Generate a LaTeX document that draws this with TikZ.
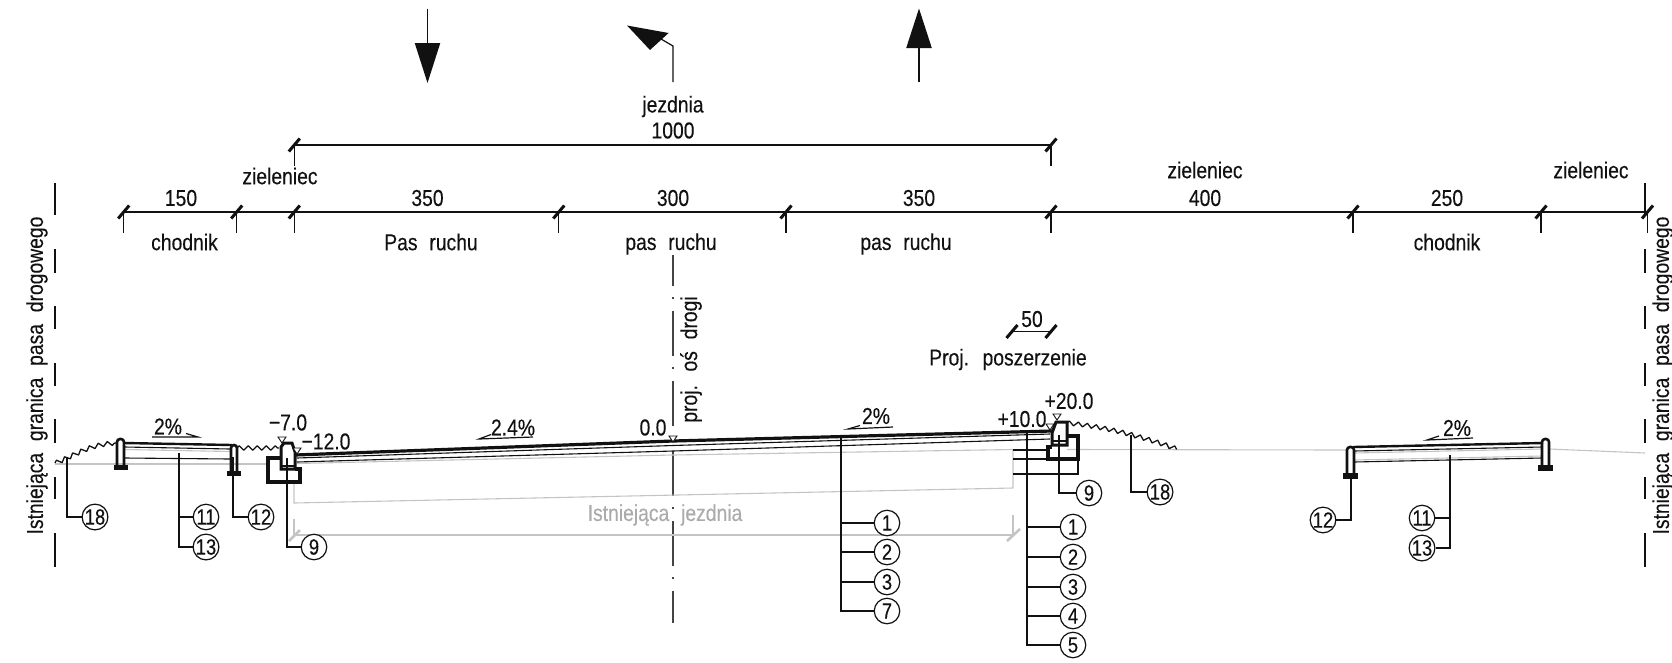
\documentclass[tikz,border=0pt]{standalone}
\usepackage{fontspec}
\setmainfont[FakeStretch=0.84,WordSpace=2.2,FakeBold=0.25]{Liberation Sans}
\usetikzlibrary{decorations.pathmorphing}
\definecolor{ink}{HTML}{111111}
\definecolor{axis}{HTML}{444444}
\definecolor{pale}{HTML}{C4C4C4}
\definecolor{paletext}{HTML}{ABABAB}
\tikzset{
 lbl/.style={font=\fontsize{23}{23}\selectfont,text=ink,inner sep=0pt},
 num/.style={draw=ink,line width=1.2pt,circle,minimum size=25.5pt,inner sep=0pt,font=\fontsize{22}{22}\selectfont,text=ink,fill=white},
 lead/.style={draw=ink,line width=1.2pt},
 dimline/.style={draw=ink,line width=1.2pt},
 slashmark/.style={draw=ink,line width=3pt},
 thinlayer/.style={draw=ink,line width=1.1pt},
 thickline/.style={draw=ink,line width=3.2pt},
 midline/.style={draw=ink,line width=1.5pt},
 paleline/.style={draw=pale,line width=1.1pt},
 tri/.style={draw=ink,line width=.9pt,fill=white},
 grass/.style={draw=ink,line width=1.3pt,decorate,decoration={zigzag,segment length=9pt,amplitude=2.2pt},line join=round},
 curb/.style={draw=ink,line width=2.6pt,rounded corners=3pt},
 footing/.style={draw=ink,line width=3.2pt},
}
\begin{document}
\begin{tikzpicture}[x=1pt,y=-1pt]
\useasboundingbox (0,0) rectangle (1672,662);

% direction arrows
\coordinate (a1t) at (427.5,8.5); \coordinate (a1h) at (427.5,43);
\draw[lead] (a1t) -- (a1h);
\fill[ink] (414.7,43) -- (440.3,43) -- (427.5,83) -- cycle;
\coordinate (a2b) at (673,82); \coordinate (a2c) at (673,46); \coordinate (a2h) at (661,39);
\draw[lead] (a2b) -- (a2c) -- (a2h);
\fill[ink] (627,25.5) -- (668.6,33) -- (650,50) -- cycle;
\coordinate (a3b) at (919,82); \coordinate (a3h) at (919,48);
\draw[lead] (a3b) -- (a3h);
\fill[ink] (906.2,48) -- (931.8,48) -- (919,8.5) -- cycle;

% dimension lines
\node[lbl] (tjez) at (673,106.5) {jezdnia};
\node[lbl] (t1000) at (673,130.5) {1000};
\coordinate (u1) at (294.3,145); \coordinate (u2) at (1051,145);
\draw[dimline] (u1) -- (u2);
\foreach \n in {u1,u2}{
  \draw[slashmark] ([shift={(-5.5,6.5)}]\n) -- ([shift={(5.5,-6.5)}]\n);
  \draw[lead] (\n) -- ++(0,21);
}
\coordinate (d0) at (123.7,212); \coordinate (d1) at (236.7,212);
\coordinate (d2) at (294.3,212); \coordinate (d3) at (558.8,212);
\coordinate (d4) at (786,212);   \coordinate (d5) at (1051,212);
\coordinate (d6) at (1353,212);  \coordinate (d7) at (1541,212);
\coordinate (d8) at (1647.5,212);
\draw[dimline] (d0) -- (d8);
\foreach \n in {d0,d1,d2,d3,d4,d5,d6,d7,d8}{
  \draw[slashmark] ([shift={(-5.5,6.5)}]\n) -- ([shift={(5.5,-6.5)}]\n);
  \draw[lead] (\n) -- ++(0,21);
}
\coordinate (w1) at (1012,331.5); \coordinate (w2) at (1051,331.5);
\draw[dimline] (w1) -- (w2);
\foreach \n in {w1,w2}{
  \draw[slashmark] ([shift={(-5.5,6.5)}]\n) -- ([shift={(5.5,-6.5)}]\n);
}

% dimension labels
\node[lbl] (t150) at (181,198) {150};
\node[lbl] (t350a) at (427.5,198) {350};
\node[lbl] (t300) at (673,198) {300};
\node[lbl] (t350b) at (919,198) {350};
\node[lbl] (t400) at (1205,198) {400};
\node[lbl] (t250) at (1447,198) {250};
\node[lbl] (z1) at (280,176) {zieleniec};
\node[lbl] (z2) at (1205,170) {zieleniec};
\node[lbl] (z3) at (1591,170) {zieleniec};
\node[lbl] (c1) at (184.5,242) {chodnik};
\node[lbl] (p1) at (431,242) {Pas ruchu};
\node[lbl] (p2) at (671,244) {pas ruchu};
\node[lbl] (p3) at (906,244) {pas ruchu};
\node[lbl] (c2) at (1447,242) {chodnik};
\node[lbl] (t50) at (1032,319) {50};
\node[lbl] (tpp) at (1008,359.5) {Proj. poszerzenie};

% boundary lines and their labels
\foreach \x in {55,1645}{
 \foreach \a/\b in {183/215,249/273,306/329,363/386,419/443,477/499,533/567}{
  \draw[lead] (\x,\a) -- (\x,\b);
 }
}
\node[lbl,rotate=90] (bl) at (37,375.5) {Istniejąca granica pasa drogowego};
\node[lbl,rotate=90] (br) at (1663,375.5) {Istniejąca granica pasa drogowego};

% centre line
\coordinate (cT) at (673,255); \coordinate (cB) at (673,623);
\draw[draw=axis,line width=1.1pt,dash pattern=on 45pt off 11pt on 1.5pt off 12.5pt,dash phase=14pt] (cT) -- (cB);
\node[lbl,rotate=90] (osd) at (691,359.5) {proj. oś drogi};

% existing roadway (pale)
\draw[paleline] (55,464) -- (270,464);
\draw[paleline] (1067,449.5) -- (1347,450);
\draw[paleline] (1549,449) -- (1645,453);
\draw[paleline] (297,463.5) -- (673,455) -- (1013,449.5);
\draw[paleline] (294,480) -- (294,503) -- (1013,488) -- (1013,450);
\draw[paleline] (294,519) -- (294,535) -- (1013,535) -- (1013,515);
\draw[draw=pale,line width=2.6pt] (289,541) -- (300,530);
\draw[draw=pale,line width=2.6pt] (1007,541) -- (1020,529);
\node[font=\fontsize{23}{23}\selectfont,text=paletext,inner sep=0pt] (ej) at (665,515) {Istniejąca jezdnia};

% roadway layers
\draw[thinlayer] (297,458) -- (673,445.5) -- (1050,434);
\draw[thinlayer] (297,462) -- (673,451) -- (1050,439);
\draw[thickline] (295,455) -- (673,441) -- (1052,431);

% lines at the widening
\draw[thinlayer] (1013,450) -- (1048,450);
\draw[thinlayer] (1013,459) -- (1048,459);
\draw[thinlayer] (1013,474) -- (1078,474) -- (1078,459);

% left kerb
\draw[footing] (281,458) -- (268,458) -- (268,482) -- (300,482) -- (300,469) -- (295,469);
\draw[draw=ink,line width=3pt] (281,469) -- (281,447) -- (284,443) -- (292,443) -- (295,452) -- (295,469) -- cycle;
\draw[midline] (281,466) -- (295,466);
% right kerb
\draw[footing] (1067,436) -- (1078,436) -- (1078,459) -- (1048,459) -- (1048,447) -- (1052,447);
\draw[draw=ink,line width=3pt] (1052,445) -- (1052,433) -- (1056,422) -- (1067,422) -- (1067,445) -- cycle;
\draw[midline] (1052,441) -- (1067,441);

% elevation marks
\draw[tri] (278,437) -- (286,437) -- (282,443) -- cycle;
\draw[tri] (293,448) -- (301,448) -- (297,454) -- cycle;
\draw[tri] (669,436) -- (677,436) -- (673,442) -- cycle;
\draw[tri] (1053,414) -- (1061,414) -- (1057,420) -- cycle;
\draw[tri] (1046,424) -- (1054,424) -- (1050,430) -- cycle;
\node[lbl] (e1) at (288,422.5) {−7.0};
\node[lbl] (e2) at (326,441.5) {−12.0};
\node[lbl] (e3) at (653,427.5) {0.0};
\node[lbl] (e4) at (1069,401) {+20.0};
\node[lbl] (e5) at (1022,419) {+10.0};

% left sidewalk
\draw[thinlayer] (125,458) -- (230,459);
\draw[draw=ink,line width=1.1pt] (125,447) -- (230,449);
\draw[draw=pale,line width=1.1pt] (125,449.5) -- (230,451.5);
\draw[draw=ink,line width=2.4pt] (124,443) -- (232,445);
\draw[curb] (117,465) -- (117,439) -- (124,439) -- (124,465);
\fill[ink] (114,465) rectangle (128,470);
\draw[curb] (231,471) -- (231,445) -- (237,445) -- (237,471);
\fill[ink] (227,471) rectangle (241,476);
% right sidewalk
\draw[draw=ink,line width=1.1pt] (1354,462) -- (1542,458);
\draw[draw=pale,line width=1.1pt] (1354,460) -- (1542,456);
\draw[draw=ink,line width=1.1pt] (1354,451) -- (1542,447);
\draw[draw=pale,line width=1.1pt] (1354,453) -- (1542,449);
\draw[draw=ink,line width=2.4pt] (1353,447) -- (1543,443);
\draw[curb] (1347,473) -- (1347,447) -- (1354,447) -- (1354,473);
\fill[ink] (1343,473) rectangle (1358,479);
\draw[curb] (1542,465) -- (1542,439) -- (1549,439) -- (1549,465);
\fill[ink] (1538,465) rectangle (1553,471);

% slope marks
\node[lbl] (s1) at (168,426.5) {2\%};
\draw[lead] (152,437) -- (198,437) -- (186,433.5);
\node[lbl] (s2) at (513,427.5) {2.4\%};
\draw[lead] (533,437) -- (479,439) -- (491,434.5);
\node[lbl] (s3) at (876,416) {2\%};
\draw[lead] (893,427) -- (848,429) -- (860,425.5);
\node[lbl] (s4) at (1457,428) {2\%};
\draw[lead] (1473,438) -- (1427,440) -- (1439,436);

% grass
\draw[grass] (55,463) .. controls (75,456) and (88,444) .. (117,443);
\draw[grass] (237,448) -- (279,448);
\draw[grass] (1067,423) .. controls (1100,426) and (1135,434) .. (1177,449);

% callouts
\node[num] (n18a) at (95,517) {18};
\node[num] (n11a) at (206,517) {11};
\node[num] (n13a) at (206,547) {13};
\node[num] (n12a) at (261,517) {12};
\node[num] (n9a) at (314,547) {9};
\node[num] (n12b) at (1323,520) {12};
\node[num] (n11b) at (1422,518) {11};
\node[num] (n13b) at (1422,548) {13};
\node[num] (n1a) at (887,523) {1};
\node[num] (n2a) at (887,552) {2};
\node[num] (n3a) at (887,582) {3};
\node[num] (n7a) at (887,611) {7};
\node[num] (n1b) at (1073,527) {1};
\node[num] (n2b) at (1073,557) {2};
\node[num] (n3b) at (1073,587) {3};
\node[num] (n4b) at (1073,616) {4};
\node[num] (n5b) at (1073,645) {5};
\node[num] (n9b) at (1089,493) {9};
\node[num] (n18b) at (1160,492) {18};

\coordinate (l18a) at (67,458);
\coordinate (l11a) at (179,453);
\coordinate (l12a) at (233,457);
\coordinate (l9a) at (287,458);
\coordinate (l12b) at (1351,479);
\coordinate (l11b) at (1450,455);
\coordinate (l1a) at (841,438);
\coordinate (l1b) at (1027,432);
\coordinate (l9b) at (1059,435);
\coordinate (l18b) at (1131,435);

\draw[lead] (l18a) |- (n18a);
\draw[lead] (l11a) |- (n13a);
\draw[lead] (l11a |- n11a) -- (n11a);
\draw[lead] (l12a) |- (n12a);
\draw[lead] (l9a) |- (n9a);
\draw[lead] (l12b) |- (n12b);
\draw[lead] (l11b) |- (n13b);
\draw[lead] (l11b |- n11b) -- (n11b);
\draw[lead] (l1a) |- (n7a);
\draw[lead] (l1a |- n1a) -- (n1a);
\draw[lead] (l1a |- n2a) -- (n2a);
\draw[lead] (l1a |- n3a) -- (n3a);
\draw[lead] (l1b) |- (n5b);
\draw[lead] (l1b |- n1b) -- (n1b);
\draw[lead] (l1b |- n2b) -- (n2b);
\draw[lead] (l1b |- n3b) -- (n3b);
\draw[lead] (l1b |- n4b) -- (n4b);
\draw[lead] (l9b) |- (n9b);
\draw[lead] (l18b) |- (n18b);
\end{tikzpicture}
\end{document}
